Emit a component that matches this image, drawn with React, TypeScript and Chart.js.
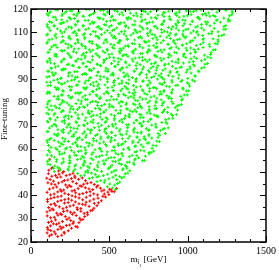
import { useEffect, useRef } from "react";
import { Chart, registerables } from "chart.js";

Chart.register(...registerables);

const X_MIN = 0;
const X_MAX = 1500;
const Y_MIN = 20;
const Y_MAX = 120;
const xTickLabels = [0, 500, 1000, 1500];
const yTickLabels = [20, 30, 40, 50, 60, 70, 80, 90, 100, 110, 120];
const yTitle = "Fine-tuning";
const xTitleMain = "m";
const xTitleSub = "t\u0303";
const xTitleSubSub = "1";
const xTitleUnit = " [GeV]";

const greenPoints: [number, number][] = [
  [521,43.2],
  [468,45.6],[534,44.4],[552,45.1],
  [392,47.6],[445,46.3],[497,47.1],[548,46.8],[578,47.5],
  [298,49.4],[341,48.7],[386,49.6],[433,48.2],[489,49.1],[541,48.6],[602,49.3],
  [143,51.6],[189,50.9],[236,51.3],[271,50.4],[318,51.8],[362,50.7],[405,51.2],[451,50.3],[497,51.7],[543,50.8],[588,51.4],[631,50.6],
  [108,53.4],[151,52.6],[197,53.8],[243,52.3],[286,53.1],[334,52.8],[379,53.6],[427,52.2],[468,53.3],[517,52.9],[563,53.7],[608,52.4],[659,53.2],
  [117,55.2],[162,54.5],[205,55.7],[249,54.1],[296,55.4],[341,54.8],[384,55.9],[432,54.3],[479,55.1],[523,54.6],[571,55.6],[613,54.2],[661,55.3],[712,54.9],
  [104,57.3],[149,56.4],[198,57.8],[247,56.9],[291,57.2],[338,56.3],[389,57.6],[436,56.7],[483,57.4],[532,56.2],[579,57.9],[628,56.6],[676,57.1],[731,56.8],
  [121,58.6],[166,59.7],[214,58.2],[258,59.3],[303,58.9],[349,59.5],[396,58.4],[442,59.8],[487,58.7],[535,59.2],[581,58.1],[627,59.6],[674,58.8],[722,59.1],[768,58.5],
  [112,61.4],[158,60.3],[203,61.8],[251,60.7],[297,61.1],[344,60.5],[391,61.6],[437,60.2],[482,61.3],[529,60.9],[577,61.7],[623,60.4],[668,61.2],[716,60.8],[779,61.5],
  [106,62.8],[148,63.6],[192,62.3],[239,63.2],[284,62.7],[327,63.9],[373,62.4],[418,63.4],[464,62.9],[511,63.7],[556,62.1],[602,63.1],[649,62.6],[694,63.8],[742,62.5],[803,63.3],
  [127,64.5],[171,65.6],[218,64.2],[262,65.3],[309,64.8],[353,65.9],[399,64.4],[446,65.1],[491,64.7],[538,65.7],[584,64.3],[631,65.4],[676,64.9],[723,65.2],[771,64.6],[822,65.8],
  [103,67.4],[149,66.3],[196,67.7],[241,66.8],[287,67.1],[332,66.5],[378,67.9],[424,66.2],[471,67.3],[517,66.9],[563,67.6],[609,66.4],[657,67.2],[703,66.7],[751,67.8],[812,66.6],
  [118,68.9],[162,69.7],[207,68.3],[253,69.2],[296,68.6],[341,69.9],[387,68.1],[433,69.4],[478,68.7],[524,69.6],[569,68.4],[616,69.1],[661,68.8],[707,69.8],[753,68.2],[799,69.3],[851,68.7],
  [109,71.5],[154,70.4],[199,71.8],[245,70.7],[291,71.2],[336,70.2],[383,71.6],[428,70.9],[474,71.3],[519,70.5],[566,71.9],[611,70.3],[657,71.1],[702,70.8],[748,71.7],[796,70.6],[862,71.4],
  [124,72.7],[169,73.5],[214,72.2],[259,73.8],[305,72.9],[351,73.3],[397,72.4],[442,73.6],[488,72.8],[533,73.1],[579,72.5],[624,73.9],[671,72.3],[716,73.4],[763,72.6],[811,73.7],[879,72.9],
  [101,75.3],[147,74.6],[193,75.8],[238,74.2],[283,75.5],[329,74.9],[374,75.1],[421,74.4],[466,75.7],[512,74.7],[557,75.2],[603,74.1],[649,75.9],[694,74.8],[741,75.4],[787,74.5],[839,75.6],[903,74.3],
  [115,76.8],[161,77.6],[206,76.3],[252,77.2],[297,76.9],[342,77.8],[388,76.1],[434,77.4],[479,76.6],[525,77.9],[572,76.4],[617,77.1],[663,76.7],[708,77.5],[755,76.2],[801,77.3],[852,76.9],[921,77.7],
  [106,79.2],[152,78.4],[197,79.7],[243,78.8],[288,79.4],[334,78.1],[379,79.9],[425,78.6],[470,79.1],[516,78.3],[562,79.6],[607,78.9],[654,79.3],[699,78.2],[746,79.8],[792,78.5],[841,79.5],[944,78.7],
  [121,80.6],[166,81.4],[211,80.2],[257,81.8],[302,80.9],[347,81.2],[393,80.4],[438,81.6],[484,80.7],[529,81.1],[575,80.3],[621,81.9],[666,80.8],[712,81.3],[758,80.5],[803,81.7],[849,80.1],[897,81.5],[961,80.9],
  [103,83.7],[148,82.5],[194,83.1],[239,82.8],[285,83.9],[331,82.2],[376,83.4],[422,82.7],[467,83.6],[513,82.4],[558,83.2],[604,82.9],[650,83.8],[696,82.1],[741,83.3],[787,82.6],[834,83.5],[882,82.3],[978,83.1],
  [117,84.3],[163,85.5],[208,84.8],[254,85.2],[299,84.1],[345,85.7],[391,84.6],[436,85.9],[482,84.4],[527,85.1],[573,84.9],[619,85.6],[664,84.2],[710,85.3],[756,84.7],[802,85.8],[848,84.5],[903,85.4],[993,84.8],
  [109,87.1],[154,86.4],[199,87.8],[245,86.7],[290,87.3],[336,86.2],[381,87.6],[427,86.9],[472,87.4],[518,86.5],[563,87.9],[609,86.1],[655,87.2],[700,86.8],[746,87.5],[791,86.3],[838,87.7],[884,86.6],[937,87.3],[1012,86.9],
  [124,88.6],[169,89.7],[215,88.2],[260,89.4],[306,88.9],[351,89.1],[397,88.4],[442,89.8],[488,88.7],[533,89.3],[579,88.1],[625,89.6],[670,88.8],[716,89.2],[761,88.3],[807,89.9],[853,88.5],[899,89.4],[958,88.9],[1031,89.5],
  [102,90.8],[147,91.6],[193,90.3],[238,91.2],[284,90.7],[329,91.9],[375,90.4],[420,91.4],[466,90.9],[511,91.7],[557,90.2],[602,91.3],[648,90.6],[694,91.8],[739,90.5],[785,91.1],[831,90.8],[878,91.5],[941,90.3],[1049,91.2],
  [113,93.3],[158,92.4],[204,93.8],[249,92.7],[295,93.1],[340,92.2],[386,93.6],[431,92.9],[477,93.4],[522,92.5],[568,93.9],[613,92.1],[659,93.2],[705,92.8],[750,93.5],[796,92.3],[842,93.7],[888,92.6],[934,93.1],[992,92.9],[1068,93.4],
  [128,94.7],[173,95.5],[219,94.2],[264,95.8],[310,94.9],[355,95.3],[401,94.5],[446,95.6],[492,94.1],[537,95.2],[583,94.8],[628,95.9],[674,94.4],[719,95.1],[765,94.6],[811,95.7],[857,94.3],[903,95.4],[951,94.9],[1014,95.2],[1089,94.6],
  [105,97.2],[150,96.5],[196,97.7],[241,96.3],[287,97.5],[332,96.8],[378,97.1],[423,96.2],[469,97.9],[514,96.6],[560,97.3],[605,96.9],[651,97.6],[697,96.1],[742,97.4],[788,96.7],[833,97.8],[879,96.4],[925,97.2],[973,96.8],[1036,97.5],[1111,96.3],
  [119,98.8],[164,99.6],[210,98.3],[255,99.2],[301,98.6],[346,99.8],[392,98.1],[437,99.4],[483,98.7],[528,99.1],[574,98.4],[619,99.7],[665,98.9],[711,99.3],[756,98.2],[802,99.5],[848,98.6],[893,99.9],[940,98.5],[988,99.2],[1057,98.8],[1129,99.4],
  [108,101.4],[153,100.6],[199,101.9],[244,100.3],[290,101.2],[335,100.8],[381,101.6],[426,100.1],[472,101.3],[517,100.7],[563,101.8],[608,100.4],[654,101.1],[700,100.9],[745,101.7],[791,100.2],[837,101.5],[882,100.6],[929,101.2],[978,100.8],[1049,101.4],[1146,100.5],
  [122,102.6],[167,103.5],[213,102.2],[258,103.8],[304,102.9],[349,103.2],[395,102.4],[440,103.6],[486,102.7],[531,103.1],[577,102.3],[622,103.9],[668,102.8],[714,103.3],[759,102.1],[805,103.7],[851,102.5],[896,103.4],[943,102.9],[990,103.2],[1041,102.6],[1098,103.5],[1163,102.4],
  [101,105.3],[146,104.4],[192,105.7],[237,104.8],[283,105.1],[328,104.2],[374,105.9],[419,104.6],[465,105.4],[510,104.9],[556,105.6],[601,104.1],[647,105.2],[693,104.7],[738,105.8],[784,104.3],[830,105.5],[875,104.9],[921,105.1],[968,104.5],[1016,105.7],[1083,104.8],[1176,105.2],
  [116,106.8],[161,107.6],[207,106.3],[252,107.2],[298,106.6],[343,107.9],[389,106.1],[434,107.4],[480,106.9],[525,107.7],[571,106.4],[616,107.1],[662,106.7],[708,107.5],[753,106.2],[799,107.8],[845,106.5],[890,107.3],[936,106.9],[984,107.6],[1033,106.4],[1102,107.2],[1194,106.8],
  [107,109.2],[152,108.5],[198,109.7],[243,108.3],[289,109.4],[334,108.9],[380,109.1],[425,108.2],[471,109.8],[516,108.7],[562,109.3],[607,108.4],[653,109.6],[699,108.1],[744,109.5],[790,108.8],[836,109.9],[881,108.6],[927,109.2],[973,108.4],[1021,109.7],[1069,108.9],[1135,109.4],[1218,108.6],
  [123,110.7],[168,111.5],[214,110.2],[259,111.8],[305,110.9],[350,111.2],[396,110.4],[441,111.6],[487,110.8],[532,111.1],[578,110.3],[623,111.9],[669,110.6],[715,111.3],[760,110.1],[806,111.7],[852,110.5],[897,111.4],[943,110.9],[989,111.2],[1037,110.6],[1088,111.8],[1156,110.4],[1231,111.3],
  [104,113.4],[149,112.6],[195,113.8],[240,112.3],[286,113.1],[331,112.8],[377,113.6],[422,112.2],[468,113.3],[513,112.9],[559,113.7],[604,112.4],[650,113.2],[696,112.7],[741,113.9],[787,112.5],[833,113.4],[878,112.1],[924,113.6],[970,112.8],[1017,113.3],[1064,112.6],[1121,113.5],[1243,112.9],
  [118,114.6],[163,115.4],[209,114.2],[254,115.7],[300,114.9],[345,115.1],[391,114.4],[436,115.8],[482,114.7],[527,115.3],[573,114.1],[618,115.6],[664,114.8],[710,115.2],[755,114.3],[801,115.9],[847,114.5],[892,115.4],[938,114.9],[984,115.1],[1030,114.6],[1077,115.7],[1128,114.4],[1189,115.3],[1258,114.8],
  [110,117.3],[155,116.5],[201,117.8],[246,116.2],[292,117.1],[337,116.8],[383,117.6],[428,116.4],[474,117.4],[519,116.9],[565,117.7],[610,116.1],[656,117.2],[702,116.6],[747,117.9],[793,116.3],[839,117.5],[884,116.7],[930,117.2],[976,116.9],[1022,117.6],[1069,116.4],[1119,117.3],[1176,116.8],[1267,117.1],
  [126,118.8],[171,119.6],[217,118.3],[262,119.2],[308,118.7],[353,119.8],[399,118.1],[444,119.4],[490,118.9],[535,119.3],[581,118.5],[626,119.7],[672,118.2],[718,119.1],[763,118.8],[809,119.5],[855,118.4],[900,119.9],[946,118.6],[992,119.2],[1038,118.9],[1085,119.6],[1134,118.3],[1201,119.4],[1284,119.1],
];

const greenPoints2: [number, number][] = [
  [488,43.7],[541,42.5],
  [421,45.9],[503,44.9],[566,45.7],
  [372,47.3],[421,47.9],[472,46.5],[523,47.8],[593,47.9],
  [317,48.4],[364,49.8],[411,49.0],[462,48.5],[515,49.9],[566,48.1],[618,49.6],
  [150,50.3],[181,51.6],[239,50.9],[281,51.2],[348,50.1],[372,51.8],[421,50.6],[494,51.4],[530,50.4],[585,51.0],[613,51.7],
  [122,53.2],[171,52.1],[244,53.8],[280,52.6],[335,53.4],[363,52.4],[424,53.0],[468,53.7],[507,52.2],[577,53.3],[603,52.8],[655,53.9],
  [104,54.6],[165,55.4],[209,54.4],[248,55.0],[318,55.7],[344,54.2],[396,55.3],[460,54.8],[493,55.9],[540,54.5],[561,55.1],[629,54.3],[667,55.6],[724,54.9],
  [131,57.0],[183,57.7],[247,56.2],[280,57.3],[327,56.8],[348,57.9],[416,56.5],[454,57.1],[511,56.3],[556,57.6],[587,56.9],[645,57.2],[687,56.1],[754,57.8],
  [112,59.3],[180,58.8],[218,59.9],[275,58.5],[320,59.1],[351,58.3],[409,59.6],[451,58.9],[518,59.2],[542,58.1],[591,59.8],[664,58.6],[700,59.4],[755,58.4],[783,59.0],
  [127,60.5],[185,61.1],[227,60.3],[294,61.6],[318,60.9],[367,61.2],[440,60.1],[476,61.8],[531,60.6],[559,61.4],[620,60.4],[664,61.0],[703,61.7],[773,60.2],[799,61.3],
  [103,63.6],[176,62.9],[212,63.2],[267,62.1],[295,63.8],[356,62.6],[400,63.4],[439,62.4],[509,63.0],[535,63.7],[587,62.2],[651,63.3],[684,62.8],[731,63.9],[752,62.5],[820,63.1],
  [118,64.1],[162,65.8],[201,64.6],[271,65.4],[297,64.4],[349,65.0],[413,65.7],[446,64.2],[493,65.3],[514,64.8],[582,65.9],[620,64.5],[677,65.1],[722,64.3],[753,65.6],[811,64.9],
  [109,67.4],[173,66.4],[206,67.0],[253,67.7],[274,66.2],[342,67.3],[380,66.8],[437,67.9],[482,66.5],[513,67.1],[571,66.3],[613,67.6],[680,66.9],[704,67.2],[753,66.1],[826,67.8],[858,66.6],
  [134,69.7],[172,68.2],[229,69.3],[274,68.8],[305,69.9],[363,68.5],[405,69.1],[472,68.3],[496,69.6],[545,68.9],[618,69.2],[654,68.1],[709,69.8],[737,68.6],[798,69.4],[842,68.4],[876,69.0],
  [105,71.8],[147,70.5],[214,71.1],[238,70.3],[287,71.6],[360,70.9],[396,71.2],[451,70.1],[479,71.8],[540,70.6],[584,71.4],[623,70.4],[693,71.0],[719,71.7],[771,70.2],[835,71.3],[868,70.8],
  [121,73.1],[157,72.3],[212,73.6],[240,72.9],[301,73.2],[345,72.1],[384,73.8],[454,72.6],[480,73.4],[532,72.4],[596,73.0],[629,73.7],[676,72.2],[697,73.3],[765,72.8],[803,73.9],[860,72.5],[905,73.1],
  [113,74.9],[152,75.2],[222,74.1],[248,75.8],[300,74.6],[364,75.4],[397,74.4],[444,75.0],[465,75.7],[533,74.2],[571,75.3],[628,74.8],[673,75.9],[704,74.5],[762,75.1],[804,74.3],[871,75.6],[895,74.9],[928,74.7],
  [102,77.8],[135,76.6],[182,77.4],[203,76.4],[271,77.0],[309,77.7],[366,76.2],[411,77.3],[442,76.8],[500,77.9],[542,76.5],[609,77.1],[633,76.3],[682,77.6],[755,76.9],[791,77.2],[846,76.1],[874,77.8],[935,76.6],
  [128,78.4],[185,79.0],[230,79.7],[261,78.2],[319,79.3],[361,78.8],[428,79.9],[452,78.5],[501,79.1],[574,78.3],[610,79.6],[665,78.9],[693,79.2],[754,78.1],[798,79.8],[837,78.6],[907,79.4],[933,78.4],[960,79.0],
  [110,80.2],[177,81.3],[201,80.8],[250,81.9],[323,80.5],[359,81.1],[414,80.3],[442,81.6],[503,80.9],[547,81.2],[586,80.1],[656,81.8],[682,80.6],[734,81.4],[798,80.4],[831,81.0],[878,81.7],[899,80.2],[967,81.3],
  [119,83.9],[174,82.5],[202,83.1],[263,82.3],[307,83.6],[346,82.9],[416,83.2],[442,82.1],[494,83.8],[558,82.6],[591,83.4],[638,82.4],[659,83.0],[727,83.7],[765,82.2],[822,83.3],[867,82.8],[898,83.9],[956,82.5],[998,83.1],
  [106,84.3],[176,85.6],[202,84.9],[254,85.2],[318,84.1],[351,85.8],[398,84.6],[419,85.4],[487,84.4],[525,85.0],[582,85.7],[627,84.2],[658,85.3],[716,84.8],[758,85.9],[825,84.5],[849,85.1],[898,84.3],[971,85.6],[1007,84.9],
  [125,87.2],[172,86.1],[193,87.8],[261,86.6],[299,87.4],[356,86.4],[401,87.0],[432,87.7],[490,86.2],[532,87.3],[599,86.8],[623,87.9],[672,86.5],[745,87.1],[781,86.3],[836,87.6],[864,86.9],[925,87.2],[969,86.1],[1008,87.8],
  [101,88.6],[146,89.4],[177,88.4],[235,89.0],[277,89.7],[344,88.2],[368,89.3],[417,88.8],[490,89.9],[526,88.5],[581,89.1],[609,88.3],[670,89.6],[714,88.9],[753,89.2],[823,88.1],[849,89.8],[901,88.6],[965,89.4],[998,88.4],[1045,89.0],
  [116,91.0],[140,91.7],[189,90.2],[262,91.3],[298,90.8],[353,91.9],[381,90.5],[442,91.1],[486,90.3],[525,91.6],[595,90.9],[621,91.2],[673,90.1],[737,91.8],[770,90.6],[817,91.4],[838,90.4],[906,91.0],[944,91.7],[1001,90.2],[1046,91.3],
  [107,93.3],[135,92.8],[196,93.9],[240,92.5],[279,93.1],[349,92.3],[375,93.6],[427,92.9],[491,93.2],[524,92.1],[571,93.8],[592,92.6],[660,93.4],[698,92.4],[755,93.0],[800,93.7],[831,92.2],[889,93.3],[931,92.8],[998,93.9],[1022,92.5],[1071,93.1],
  [130,94.5],[156,95.1],[208,94.3],[272,95.6],[305,94.9],[352,95.2],[373,94.1],[441,95.8],[479,94.6],[536,95.4],[581,94.4],[612,95.0],[670,95.7],[712,94.2],[779,95.3],[803,94.8],[852,95.9],[925,94.5],[961,95.1],[1016,94.3],[1044,95.6],[1105,94.9],
  [104,97.6],[125,96.9],[193,97.2],[231,96.1],[288,97.8],[333,96.6],[364,97.4],[422,96.4],[464,97.0],[531,97.7],[555,96.2],[604,97.3],[677,96.8],[713,97.9],[768,96.5],[796,97.1],[857,96.3],[901,97.6],[940,96.9],[1010,97.2],[1036,96.1],[1088,97.8],[1127,96.6],
  [122,98.1],[153,99.8],[211,98.6],[253,99.4],[320,98.4],[344,99.0],[393,99.7],[466,98.2],[502,99.3],[557,98.8],[585,99.9],[646,98.5],[690,99.1],[729,98.3],[799,99.6],[825,98.9],[877,99.2],[941,98.1],[974,99.8],[1021,98.6],[1042,99.4],[1110,98.4],[1148,99.0],
  [113,101.4],[162,100.4],[235,101.0],[271,101.7],[326,100.2],[354,101.3],[415,100.8],[459,101.9],[498,100.5],[568,101.1],[594,100.3],[646,101.6],[710,100.9],[743,101.2],[790,100.1],[811,101.8],[879,100.6],[917,101.4],[974,100.4],[1019,101.0],[1050,101.7],[1108,100.2],[1150,101.3],
  [132,103.7],[193,102.2],[237,103.3],[276,102.8],[346,103.9],[372,102.5],[424,103.1],[488,102.3],[521,103.6],[568,102.9],[589,103.2],[657,102.1],[695,103.8],[752,102.6],[797,103.4],[828,102.4],[886,103.0],[928,103.7],[995,102.2],[1019,103.3],[1068,102.8],[1141,103.9],[1177,102.5],
  [106,105.8],[158,104.5],[222,105.1],[255,104.3],[302,105.6],[323,104.9],[391,105.2],[429,104.1],[486,105.8],[531,104.6],[562,105.4],[620,104.4],[662,105.0],[729,105.7],[753,104.2],[802,105.3],[875,104.8],[911,105.9],[966,104.5],[994,105.1],[1055,104.3],[1099,105.6],[1138,104.9],[1190,105.0],
  [135,107.1],[203,106.3],[241,107.6],[298,106.9],[343,107.2],[374,106.1],[432,107.8],[474,106.6],[541,107.4],[565,106.4],[614,107.0],[687,107.7],[723,106.2],[778,107.3],[806,106.8],[867,107.9],[911,106.5],[950,107.1],[1020,106.3],[1046,107.6],[1098,106.9],[1162,107.2],[1195,106.1],
  [101,108.9],[159,109.2],[201,108.1],[268,109.8],[292,108.6],[341,109.4],[414,108.4],[450,109.0],[505,109.7],[533,108.2],[594,109.3],[638,108.8],[677,109.9],[747,108.5],[773,109.1],[825,108.3],[889,109.6],[922,108.9],[969,109.2],[990,108.1],[1058,109.8],[1096,108.6],[1153,109.4],[1198,108.4],[1232,109.0],
  [115,111.8],[188,110.6],[224,111.4],[279,110.4],[307,111.0],[368,111.7],[412,110.2],[451,111.3],[521,110.8],[547,111.9],[599,110.5],[663,111.1],[696,110.3],[743,111.6],[764,110.9],[832,111.2],[870,110.1],[927,111.8],[972,110.6],[1003,111.4],[1061,110.4],[1103,111.0],[1170,111.7],[1194,110.2],[1243,111.3],
  [104,112.4],[148,113.0],[187,113.7],[257,112.2],[283,113.3],[335,112.8],[399,113.9],[432,112.5],[479,113.1],[500,112.3],[568,113.6],[606,112.9],[663,113.2],[708,112.1],[739,113.8],[797,112.6],[839,113.4],[906,112.4],[930,113.0],[979,113.7],[1052,112.2],[1088,113.3],[1143,112.8],[1171,113.9],[1232,112.5],
  [133,114.2],[197,115.3],[230,114.8],[277,115.9],[298,114.5],[366,115.1],[404,114.3],[461,115.6],[506,114.9],[537,115.2],[595,114.1],[637,115.8],[704,114.6],[728,115.4],[777,114.4],[850,115.0],[886,115.7],[941,114.2],[969,115.3],[1030,114.8],[1074,115.9],[1113,114.5],[1183,115.1],[1209,114.3],[1261,115.6],[1270,114.9],
  [103,117.9],[141,116.5],[198,117.1],[243,116.3],[274,117.6],[332,116.9],[374,117.2],[441,116.1],[465,117.8],[514,116.6],[587,117.4],[623,116.4],[678,117.0],[706,117.7],[767,116.2],[811,117.3],[850,116.8],[920,117.9],[946,116.5],[998,117.1],[1062,116.3],[1095,117.6],[1142,116.9],[1163,117.2],[1231,116.1],[1281,117.5],
  [117,118.3],[159,119.6],[226,118.9],[250,119.2],[299,118.1],[372,119.8],[408,118.6],[463,119.4],[491,118.4],[552,119.0],[596,119.7],[635,118.2],[705,119.3],[731,118.8],[783,119.9],[847,118.5],[880,119.1],[927,118.3],[948,119.6],[1016,118.9],[1054,119.2],[1111,118.1],[1156,119.8],[1187,118.6],[1245,119.4],[1287,118.4],
];

const redPoints: [number, number][] = [
  [118,22.6],[157,23.5],[196,22.9],
  [109,25.3],[148,24.4],[193,25.7],[238,24.8],
  [124,26.9],[163,27.6],[205,26.3],[247,27.3],[286,26.7],
  [112,28.4],[157,29.5],[201,28.8],[254,29.2],[306,28.3],[331,29.7],
  [104,31.2],[149,30.6],[196,31.8],[243,30.3],[289,31.4],[343,30.9],
  [121,33.6],[164,32.4],[208,33.1],[252,32.8],[297,33.9],[339,32.3],[381,33.4],
  [113,34.8],[158,35.7],[204,34.3],[249,35.4],[294,34.7],[347,35.9],[402,34.5],
  [106,37.3],[149,36.5],[192,37.8],[237,36.9],[283,37.2],[329,36.2],[376,37.6],[431,36.8],
  [127,38.7],[171,39.4],[216,38.2],[262,39.8],[307,38.9],[353,39.2],[401,38.4],[459,39.6],
  [103,41.3],[148,40.6],[194,41.8],[239,40.4],[285,41.1],[331,40.8],[378,41.6],[425,40.2],[491,41.4],
  [118,42.7],[164,43.6],[209,42.3],[255,43.8],[301,42.9],[347,43.3],[394,42.5],[443,43.1],[502,42.6],
  [108,45.4],[153,44.6],[199,45.8],[244,44.3],[290,45.1],[336,44.8],[383,45.5],[427,44.2],
  [122,46.8],[167,47.7],[213,46.4],[258,47.2],[304,46.9],[348,46.3],
  [111,49.3],[156,48.6],[202,49.7],[248,48.9],[279,48.3],
  [114,50.8],[132,51.6],[176,50.5],[209,50.2],
  [120,55.5],[138,51.9],
];

const redPoints2: [number, number][] = [
  [132,23.1],[171,22.4],[214,23.8],[103,23.9],
  [126,24.9],[172,25.4],[211,24.2],[259,25.9],
  [104,26.2],[143,27.8],[186,26.6],[226,27.1],[268,27.9],[297,26.4],
  [131,28.9],[178,28.1],[229,29.7],[272,28.6],[318,29.4],
  [125,30.4],[172,31.5],[219,30.9],[264,31.9],[311,30.2],[362,31.7],
  [102,32.9],[143,33.8],[187,32.1],[231,33.4],[276,32.6],[318,33.2],[359,32.7],[393,33.7],
  [135,34.2],[181,35.1],[226,34.9],[271,35.8],[318,34.4],[371,35.3],[421,35.6],
  [127,36.1],[171,37.4],[214,36.7],[260,37.9],[306,36.4],[352,37.1],[404,36.6],[449,37.7],
  [105,38.3],[148,39.1],[193,39.7],[239,38.5],[284,39.4],[330,38.1],[377,39.9],[428,38.8],[476,39.3],
  [125,40.2],[171,41.5],[216,40.9],[262,41.9],[308,40.5],[354,41.3],[401,40.7],[452,41.9],[468,40.6],[517,41.7],
  [497,40.3],[531,41.6],[512,42.4],[545,43.0],
  [141,43.2],[187,42.4],[232,43.5],[278,42.2],[324,43.9],[370,42.8],[419,43.6],[466,42.3],
  [130,44.9],[176,45.3],[221,44.5],[267,45.9],[313,44.1],[359,45.2],[404,44.7],
  [101,47.4],[144,46.1],[190,47.9],[235,46.6],[281,47.6],[327,47.5],
  [133,48.2],[179,49.1],[225,48.5],[268,49.5],
];

const FONT = "'Liberation Serif', 'Times New Roman', serif";

const framePlugin = {
  id: "frameTicks",
  afterDatasetsDraw(chart: any) {
    const { ctx, chartArea: a, scales } = chart;
    const xs = scales.x;
    const ys = scales.y;
    ctx.save();
    ctx.strokeStyle = "#000";
    ctx.lineWidth = 1;
    const seg = (x1: number, y1: number, x2: number, y2: number) => {
      ctx.beginPath();
      ctx.moveTo(x1, y1);
      ctx.lineTo(x2, y2);
      ctx.stroke();
    };
    for (let v = X_MIN; v <= X_MAX; v += 100) {
      const px = Math.round(xs.getPixelForValue(v)) + 0.5;
      const len = v % 500 === 0 ? 6 : 3;
      seg(px, a.bottom, px, a.bottom - len);
      seg(px, a.top, px, a.top + len);
    }
    for (let v = Y_MIN; v <= Y_MAX; v += 5) {
      const py = Math.round(ys.getPixelForValue(v)) + 0.5;
      const len = v % 10 === 0 ? 6 : 3;
      seg(a.left, py, a.left + len, py);
      seg(a.right, py, a.right - len, py);
    }
    ctx.lineWidth = 1.5;
    ctx.strokeRect(a.left, a.top, a.right - a.left, a.bottom - a.top);

    ctx.fillStyle = "#000";
    ctx.font = `9px ${FONT}`;
    ctx.textAlign = "center";
    ctx.textBaseline = "middle";
    ctx.save();
    ctx.translate(5, 119);
    ctx.rotate(-Math.PI / 2);
    ctx.fillText(yTitle, 0, 0);
    ctx.restore();

    ctx.textAlign = "left";
    ctx.textBaseline = "alphabetic";
    const mainFont = `9px ${FONT}`;
    const subFont = `6px ${FONT}`;
    const subSubFont = `4.5px ${FONT}`;
    ctx.font = mainFont;
    const wM = ctx.measureText(xTitleMain).width;
    const wU = ctx.measureText(xTitleUnit).width;
    ctx.font = subFont;
    const wS = ctx.measureText(xTitleSub).width;
    ctx.font = subSubFont;
    const wSS = ctx.measureText(xTitleSubSub).width;
    const total = wM + wS + wSS + wU;
    const base = 262;
    let x0 = (a.left + a.right) / 2 - total / 2;
    ctx.font = mainFont;
    ctx.fillText(xTitleMain, x0, base);
    x0 += wM;
    ctx.font = subFont;
    ctx.fillText(xTitleSub, x0, base + 2);
    x0 += wS;
    ctx.font = subSubFont;
    ctx.fillText(xTitleSubSub, x0, base + 4.5);
    x0 += wSS;
    ctx.font = mainFont;
    ctx.fillText(xTitleUnit, x0, base);
    ctx.restore();
  },
};

const marker = (color: string) => ({
  pointStyle: "cross" as const,
  pointRadius: 1.5,
  borderWidth: 1,
  borderColor: color,
  backgroundColor: color,
});

export default function App() {
  const ref = useRef<HTMLCanvasElement | null>(null);
  useEffect(() => {
    if (!ref.current) return;
    const toXY = (pts: [number, number][]) => pts.map(([x, y]) => ({ x, y }));
    const chart = new Chart(ref.current, {
      type: "scatter",
      data: {
        datasets: [
          { label: "green", data: toXY(greenPoints.concat(greenPoints2)), ...marker("#00ff00") },
          { label: "red", data: toXY(redPoints.concat(redPoints2)), ...marker("#ff0000") },
        ],
      },
      options: {
        animation: false,
        responsive: false,
        devicePixelRatio: 1,
        events: [],
        layout: { padding: { left: 0, right: 11, top: 4, bottom: 0 } },
        plugins: { legend: { display: false }, tooltip: { enabled: false } },
        scales: {
          x: {
            type: "linear",
            min: X_MIN,
            max: X_MAX,
            grid: { display: false, drawTicks: false },
            border: { display: false },
            afterBuildTicks: (s: any) => {
              s.ticks = xTickLabels.map((v) => ({ value: v }));
            },
            afterFit: (s: any) => {
              s.height = 28;
            },
            ticks: {
              color: "#000",
              padding: 3,
              maxRotation: 0,
              autoSkip: false,
              font: { family: FONT, size: 10 },
              callback: (v: any) => String(v),
            },
          },
          y: {
            type: "linear",
            min: Y_MIN,
            max: Y_MAX,
            grid: { display: false, drawTicks: false },
            border: { display: false },
            afterBuildTicks: (s: any) => {
              s.ticks = yTickLabels.map((v) => ({ value: v }));
            },
            afterFit: (s: any) => {
              s.width = 31;
            },
            ticks: {
              color: "#000",
              padding: 3,
              autoSkip: false,
              font: { family: FONT, size: 10 },
              callback: (v: any) => String(v),
            },
          },
        },
      },
      plugins: [framePlugin],
    });
    return () => chart.destroy();
  }, []);
  return (
    <div style={{ position: "absolute", left: 0, top: 0, width: 279, height: 270, background: "#fff" }}>
      <canvas ref={ref} width={279} height={270} />
    </div>
  );
}
